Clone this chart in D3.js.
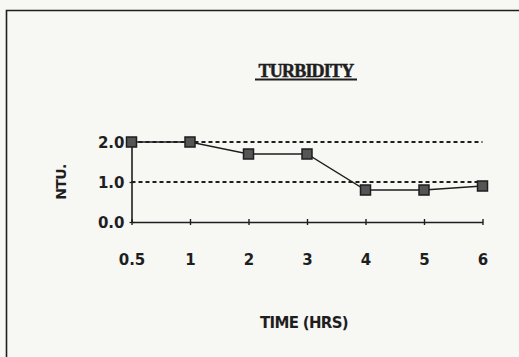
<!DOCTYPE html>
<html>
<head>
<meta charset="utf-8">
<script src="https://cdn.jsdelivr.net/npm/d3@7"></script>
<style>
  html, body { margin: 0; padding: 0; background: #f7f7f4; }
  svg { display: block; }
</style>
</head>
<body>
<svg id="chart" width="519" height="357"></svg>
<script>
// Turbidity readings over time
const times = ["0.5", "1", "2", "3", "4", "5", "6"];
const turbidity = [2.0, 2.0, 1.7, 1.7, 0.8, 0.8, 0.9];
const yTicks = [0, 1, 2];
const gridValues = [1, 2];

const svg = d3.select("#chart");
const ink = "#1e1e1e";
const labelFont = "bold 15px 'DejaVu Sans', sans-serif";

// Outer frame (top and left edges)
svg.append("path")
  .attr("d", "M519,10.5 H6.5 V357")
  .attr("fill", "none")
  .attr("stroke", ink)
  .attr("stroke-width", 1.6);

const x = d3.scalePoint().domain(times).range([131.5, 482.5]).padding(0);
const y = d3.scaleLinear().domain([0, 2]).range([222, 142]);

// Dotted reference lines
svg.append("g").selectAll("line")
  .data(gridValues)
  .join("line")
  .attr("x1", x.range()[0])
  .attr("x2", x.range()[1])
  .attr("y1", d => y(d))
  .attr("y2", d => y(d))
  .attr("stroke", ink)
  .attr("stroke-width", 1.8)
  .attr("stroke-dasharray", "4,3");

// X axis
const xAxis = svg.append("g")
  .attr("transform", `translate(0,${y(0)})`)
  .call(d3.axisBottom(x).tickSize(4).tickSizeOuter(0));
xAxis.select(".domain").attr("stroke", ink).attr("stroke-width", 1.4);
xAxis.selectAll(".tick line").attr("stroke", ink).attr("stroke-width", 1.4).attr("y1", -3).attr("y2", 3);
xAxis.selectAll(".tick text")
  .attr("y", 43)
  .attr("dy", 0)
  .attr("fill", ink)
  .style("font", labelFont);

// Y axis
const yAxis = svg.append("g")
  .attr("transform", `translate(${x.range()[0]},0)`)
  .call(d3.axisLeft(y).tickValues(yTicks).tickFormat(d3.format(".1f")).tickSize(0).tickPadding(7));
yAxis.select(".domain").attr("stroke", ink).attr("stroke-width", 1.6);
yAxis.selectAll(".tick text")
  .attr("fill", ink)
  .attr("dy", "0.36em")
  .style("font", labelFont);
yAxis.selectAll(".tick")
  .append("line")
  .attr("x1", -2).attr("x2", 3)
  .attr("stroke", ink).attr("stroke-width", 1.2);

// Data line
const line = d3.line()
  .x((d, i) => x(times[i]))
  .y(d => y(d));
svg.append("path")
  .datum(turbidity)
  .attr("d", line)
  .attr("fill", "none")
  .attr("stroke", ink)
  .attr("stroke-width", 1.3);

// Square markers
const s = 10;
svg.append("g").selectAll("rect")
  .data(turbidity)
  .join("rect")
  .attr("x", (d, i) => x(times[i]) - s / 2)
  .attr("y", d => y(d) - s / 2)
  .attr("width", s)
  .attr("height", s)
  .attr("fill", "#555")
  .attr("stroke", ink)
  .attr("stroke-width", 1.5);

// Title
svg.append("text")
  .attr("x", 306)
  .attr("y", 77)
  .attr("text-anchor", "middle")
  .attr("fill", ink)
  .attr("stroke", ink)
  .attr("stroke-width", 0.5)
  .style("font", "bold 18px 'Liberation Serif', serif")
  .style("letter-spacing", "-0.8px")
  .text("TURBIDITY");
svg.append("line")
  .attr("x1", 255).attr("x2", 357)
  .attr("y1", 79.5).attr("y2", 79.5)
  .attr("stroke", ink)
  .attr("stroke-width", 1.8);

// Axis titles
svg.append("text")
  .attr("transform", `translate(66,182) rotate(-90)`)
  .attr("text-anchor", "middle")
  .attr("fill", ink)
  .style("font", "bold 14px 'DejaVu Sans', sans-serif")
  .style("letter-spacing", "-0.6px")
  .text("NTU.");

svg.append("text")
  .attr("x", 304)
  .attr("y", 328)
  .attr("text-anchor", "middle")
  .attr("fill", ink)
  .style("font", "bold 15px 'DejaVu Sans', sans-serif")
  .style("letter-spacing", "-0.7px")
  .text("TIME (HRS)");
</script>
</body>
</html>
